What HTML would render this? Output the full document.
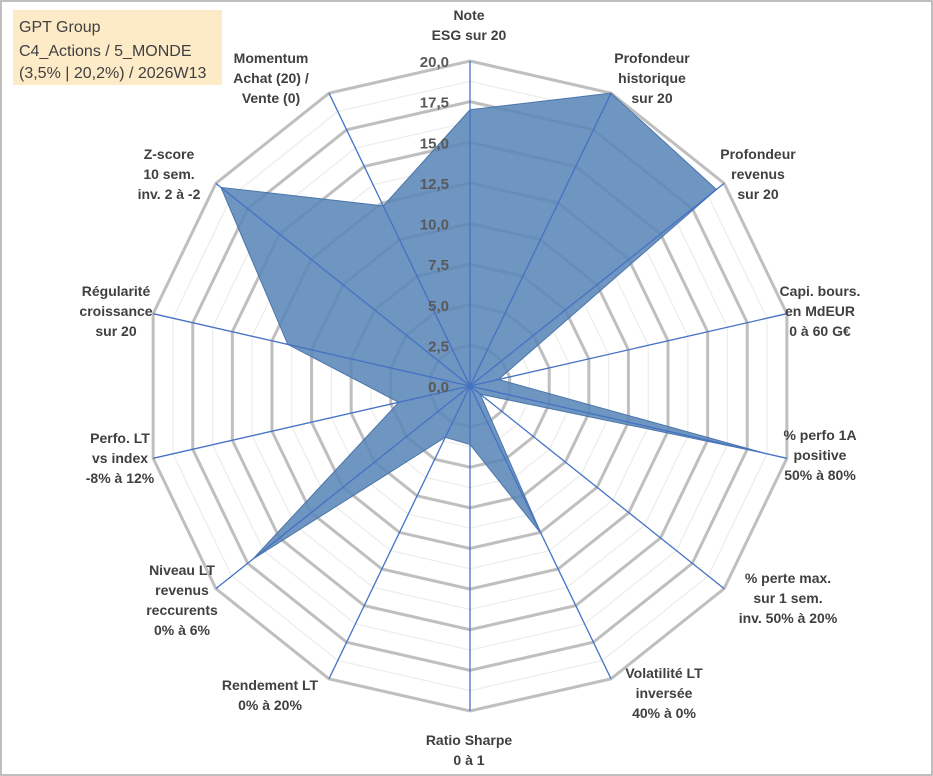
<!DOCTYPE html>
<html><head><meta charset="utf-8"><style>
body{margin:0;background:#fff}
#wrap{position:relative;width:933px;height:776px;overflow:hidden;font-family:"Liberation Sans",sans-serif}
.lbl{font-weight:bold;font-size:14px;fill:#404040}
.tick{font-weight:bold;font-size:15px;fill:#595959}
</style></head><body>
<div id="wrap">
<svg id="chart" width="933" height="776">
<rect x="1" y="1" width="931" height="774" fill="#fff" stroke="#bfbfbf" stroke-width="2"/>
<rect x="13" y="10" width="209" height="75" fill="#fdebc8"/>
<text x="19" y="32" font-size="16" fill="#404040">GPT Group</text>
<text x="19" y="56" font-size="16" fill="#404040">C4_Actions / 5_MONDE</text>
<text x="19" y="78" font-size="16" fill="#404040">(3,5% | 20,2%) / 2026W13</text>
<g id="grid"></g><g id="series"></g><g id="axes"></g><g id="ticks"></g><g id="labels"></g>
</svg></div>
<script>
const categories=[["Note","ESG sur 20"],["Profondeur","historique","sur 20"],["Profondeur","revenus","sur 20"],["Capi. bours.","en MdEUR","0 à 60 G€"],["% perfo 1A","positive","50% à 80%"],["% perte max.","sur 1 sem.","inv. 50% à 20%"],["Volatilité LT","inversée","40% à 0%"],["Ratio Sharpe","0 à 1"],["Rendement LT","0% à 20%"],["Niveau LT","revenus","reccurents","0% à 6%"],["Perfo. LT","vs index","-8% à 12%"],["Régularité","croissance","sur 20"],["Z-score","10 sem.","inv. 2 à -2"],["Momentum","Achat (20) /","Vente (0)"]];
const values=[17.0,20.0,19.4,1.8,18.6,0.8,10.1,3.6,3.5,17.1,4.5,11.5,19.6,12.3];
const tickLabels=["0,0","2,5","5,0","7,5","10,0","12,5","15,0","17,5","20,0"];
const labelPos=[[469,20],[652,63],[758,159],[820,296],[820,440],[788,583],[664,678],[469,745],[270,690],[182,575],[120,443],[116,296],[169,159],[271,63]];
const NS="http://www.w3.org/2000/svg";
const cx=470,cy=386,R=325,maxV=20,n=categories.length;
function ang(i){return i*2*Math.PI/n;}
function pt(i,v){const r=v/maxV*R;return [cx+r*Math.sin(ang(i)),cy-r*Math.cos(ang(i))];}
function mk(tag,at,parent){const e=document.createElementNS(NS,tag);for(const k in at)e.setAttribute(k,at[k]);document.getElementById(parent).appendChild(e);return e;}
// grid
for(let k=1;k<=16;k++){const v=k*1.25;const pts=[];for(let i=0;i<n;i++)pts.push(pt(i,v).join(","));
const major=k%2===0;
const g=mk("polygon",{points:pts.join(" "),fill:"none",stroke:major?"#bfbfbf":"#ececec","stroke-width":major?3:1.2},"grid");

}
// series
const sp=values.map((v,i)=>pt(i,v).join(",")).join(" ");
const s=mk("polygon",{points:sp,fill:"#5b86b8","fill-opacity":"0.88",stroke:"#4a76aa","stroke-width":1},"series");


// axes
for(let i=0;i<n;i++){const p=pt(i,maxV);const l=mk("line",{x1:cx,y1:cy,x2:p[0],y2:p[1],stroke:"#4472c4","stroke-width":1.3},"axes");

}
// ticks
tickLabels.forEach((t,k)=>{const y=cy-k*2.5/maxV*R;const e=mk("text",{x:cx-21,y:y+6,"text-anchor":"end",class:"tick"},"ticks");e.textContent=t;

});
// labels
categories.forEach((c,i)=>{const [x,y]=labelPos[i];const e=mk("text",{x:x,y:y,"text-anchor":"middle",class:"lbl"},"labels");


c.forEach((line,j)=>{const t=document.createElementNS(NS,"tspan");t.setAttribute("x",x);t.setAttribute("dy",j===0?0:20);t.textContent=line;e.appendChild(t);});});
</script>
</body></html>
